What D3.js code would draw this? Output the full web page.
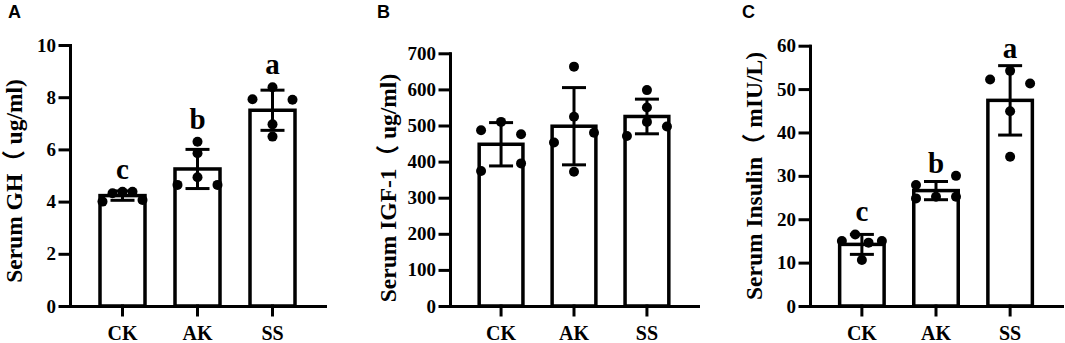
<!DOCTYPE html>
<html lang="en">
  <head>
    <meta charset="utf-8"/>
    <script src="https://d3js.org/d3.v7.min.js"></script>
    <title>Serum GH, IGF-1 and Insulin</title>
  </head>
  <body>
    <svg id="chart"></svg>
  </body>

  <style>
  body { margin: 0; background: #fff; }
  .axis path, .axis line { stroke: #000; stroke-width: 3px; stroke-linecap: square; }
  .axis text { font-family: "Liberation Serif", "Times New Roman", serif; font-weight: bold; fill: #000; }
  .title { font-family: "Liberation Serif", "Noto Sans CJK SC", serif; font-weight: bold; font-size: 23.5px; }
  .panel-letter { font-family: "Liberation Sans", Arial, sans-serif; font-weight: bold; font-size: 18px; }
  .sig { font-family: "Liberation Serif", "Times New Roman", serif; font-weight: bold; font-size: 29px; }
  </style>

  <script>
    const width = 1065;
    const height = 343;

    const groups = ["CK", "AK", "SS"];

    // A: serum GH (ug/ml)
    const ghMean = [4.23, 5.25, 7.5];
    const ghSD = [0.18, 0.75, 0.77];
    const ghPoints = [
      [4.0, 4.32, 4.38, 4.38, 4.06],
      [6.29, 5.85, 4.64, 4.93, 4.64],
      [8.38, 7.92, 7.90, 6.96, 6.49]
    ];
    const ghTicks = [0, 2, 4, 6, 8, 10];
    const ghLetters = ["c", "b", "a"];

    // B: serum IGF-1 (ug/ml)
    const igfMean = [448, 498, 525];
    const igfSD = [60, 107, 48];
    const igfPoints = [
      [487, 510, 476, 374, 395],
      [663, 524, 453, 480, 372],
      [598, 550, 471, 510, 497]
    ];
    const igfTicks = [0, 100, 200, 300, 400, 500, 600, 700];
    const igfLetters = [];

    // C: serum insulin (mIU/L)
    const insMean = [14.2, 26.6, 47.4];
    const insSD = [2.3, 2.1, 8.0];
    const insPoints = [
      [15.0, 16.5, 14.6, 15.0, 10.6],
      [27.9, 30.0, 24.8, 25.2, 25.2],
      [52.2, 54.2, 51.3, 44.9, 34.4]
    ];
    const insTicks = [0, 10, 20, 30, 40, 50, 60];
    const insLetters = ["c", "b", "a"];

    const panels = [
      { letter: "A", letterX: 8, title: "Serum GH（ ug/ml)", titleX: 22, titleY: 181,
        mean: ghMean, sd: ghSD, points: ghPoints, ticks: ghTicks, sig: ghLetters,
        x0: 70, x1: 325, yTop: 45 },
      { letter: "B", letterX: 377, title: "Serum IGF-1（ ug/ml)", titleX: 396, titleY: 188,
        mean: igfMean, sd: igfSD, points: igfPoints, ticks: igfTicks, sig: igfLetters,
        x0: 450, x1: 698, yTop: 53.3 },
      { letter: "C", letterX: 742, title: "Serum Insulin（ mIU/L)", titleX: 762, titleY: 176,
        mean: insMean, sd: insSD, points: insPoints, ticks: insTicks, sig: insLetters,
        x0: 810, x1: 1062, yTop: 45.7 }
    ];

    const baseY = 306;
    const dotR = 5;
    const capW = 24;

    const svg = d3.select("#chart")
      .attr("width", width)
      .attr("height", height);

    // spread overlapping dots sideways, prism style
    function spread(vals, y) {
      const order = vals.map((v, i) => i).sort((a, b) => y(vals[a]) - y(vals[b]));
      const clusters = [];
      order.forEach((i, k) => {
        if (k > 0 && y(vals[i]) - y(vals[order[k - 1]]) < 2 * dotR) {
          clusters[clusters.length - 1].push(i);
        } else {
          clusters.push([i]);
        }
      });
      const dx = new Array(vals.length).fill(0);
      clusters.forEach(c => {
        c.sort((a, b) => a - b);
        if (c.length > 1) c.forEach((i, j) => dx[i] = -20 + j * 40 / (c.length - 1));
      });
      return vals.map((v, i) => ({ v: v, dx: dx[i] }));
    }

    panels.forEach(p => {
      const g = svg.append("g");

      const x = d3.scaleBand()
        .domain(groups)
        .range([p.x0, p.x1])
        .paddingInner(0.4)
        .paddingOuter(0.4);
      const y = d3.scaleLinear()
        .domain([0, d3.max(p.ticks)])
        .range([baseY, p.yTop]);

      // bars
      g.selectAll(".bar")
        .data(groups)
        .enter()
        .append("rect")
        .attr("class", "bar")
        .attr("x", d => x(d))
        .attr("y", (d, i) => y(p.mean[i]))
        .attr("width", x.bandwidth())
        .attr("height", (d, i) => baseY - y(p.mean[i]))
        .style("fill", "#fff")
        .style("stroke", "#000")
        .style("stroke-width", 3.5);

      // error bars
      groups.forEach((grp, i) => {
        const cx = x(grp) + x.bandwidth() / 2;
        const hi = y(p.mean[i] + p.sd[i]);
        const lo = y(p.mean[i] - p.sd[i]);
        const eb = g.append("g").style("stroke", "#000").style("stroke-width", 3);
        eb.append("line").attr("x1", cx).attr("x2", cx).attr("y1", hi).attr("y2", lo);
        eb.append("line").attr("x1", cx - capW / 2).attr("x2", cx + capW / 2).attr("y1", hi).attr("y2", hi);
        eb.append("line").attr("x1", cx - capW / 2).attr("x2", cx + capW / 2).attr("y1", lo).attr("y2", lo);

        const dots = spread(p.points[i], y);
        g.selectAll(".dot-" + grp)
          .data(dots)
          .enter()
          .append("circle")
          .attr("cx", d => cx + d.dx)
          .attr("cy", d => y(d.v))
          .attr("r", dotR)
          .style("fill", "#000");

        if (p.sig[i]) {
          const near = dots.filter(d => Math.abs(d.dx) < 15).map(d => y(d.v) - dotR);
          const top = d3.min(near.concat([hi]));
          g.append("text")
            .attr("class", "sig")
            .attr("x", cx)
            .attr("y", top - 8)
            .attr("text-anchor", "middle")
            .text(p.sig[i]);
        }
      });

      // axes
      g.append("g")
        .attr("class", "axis")
        .attr("transform", "translate(0," + baseY + ")")
        .call(d3.axisBottom(x).tickSize(9).tickSizeOuter(0).tickPadding(11))
        .selectAll("text")
          .style("font-size", "20px");

      g.append("g")
        .attr("class", "axis")
        .attr("transform", "translate(" + p.x0 + ",0)")
        .call(d3.axisLeft(y).tickValues(p.ticks).tickSize(10).tickSizeOuter(0).tickPadding(4))
        .selectAll("text")
          .style("font-size", "19px");

      // titles
      g.append("text")
        .attr("class", "title")
        .attr("transform", "translate(" + p.titleX + "," + p.titleY + ") rotate(-90)")
        .attr("text-anchor", "middle")
        .text(p.title);

      g.append("text")
        .attr("class", "panel-letter")
        .attr("x", p.letterX)
        .attr("y", 18)
        .text(p.letter);
    });
  </script>
</html>
